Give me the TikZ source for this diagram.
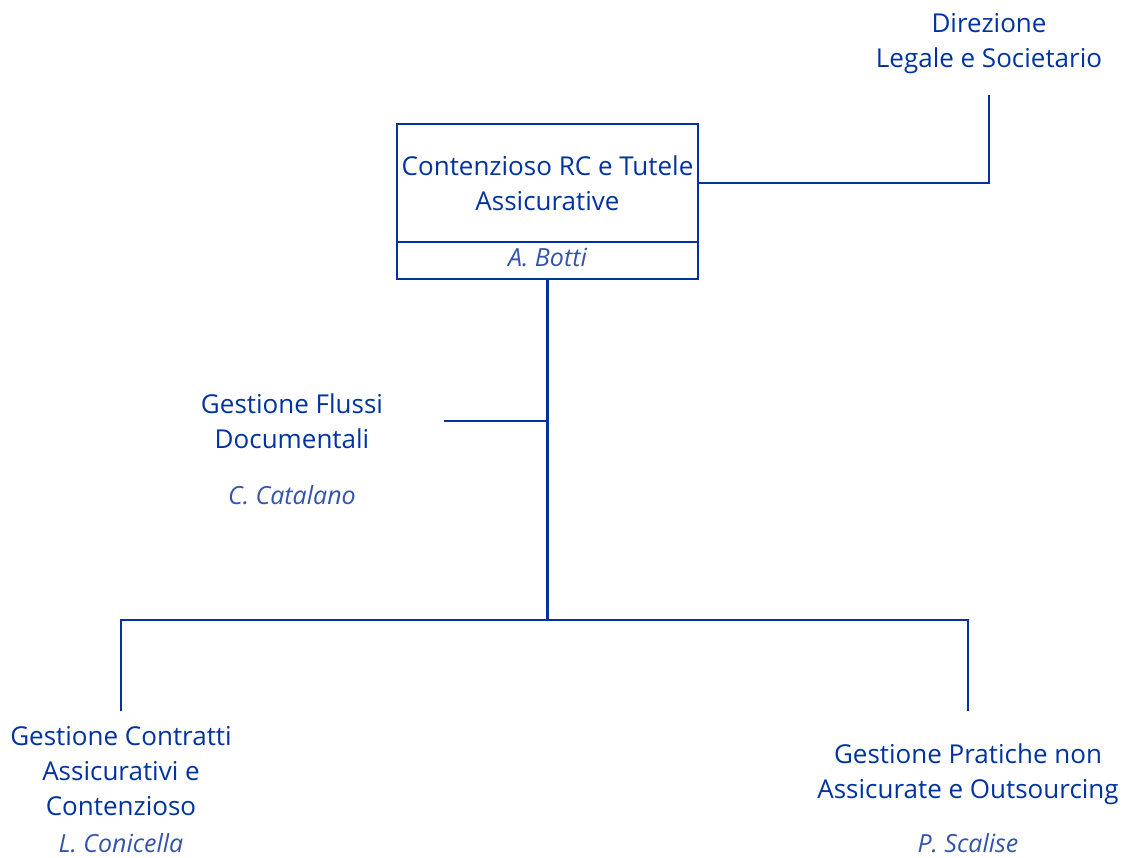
\documentclass[tikz,border=0pt]{standalone}
\usepackage{fontspec}
\setmainfont{Open Sans}
\usepackage{tikz}
\usetikzlibrary{positioning}

\definecolor{blu}{HTML}{0033A0}
\definecolor{blunome}{HTML}{3354AA}

\tikzset{
    unita/.style={align=center, text=blu, inner sep=0pt,
        font=\fontsize{26}{35}\selectfont},
    nome/.style={text=blunome, inner sep=0pt,
        font=\fontsize{25}{30}\selectfont\itshape},
    linea/.style={draw=blu, line width=2.8pt},
    scatola/.style={linea, minimum width=301pt, inner sep=0pt, outer sep=0pt},
}

\begin{document}
\begin{tikzpicture}[x=1pt, y=-1pt]
    \useasboundingbox (0,0) rectangle (1124,857);

    % 1. Unità principale
    \node[scatola, minimum height=118pt] (capo) at (547.5,183) {};
    \node[unita] at (capo.center) {Contenzioso RC e Tutele\\Assicurative};
    \node[scatola, minimum height=37pt, below=0pt of capo] (capobox) {};
    \node[nome] (caponome) at ([yshift=3pt]capobox.center) {A. Botti};

    % 2. Direzione
    \node[unita] (dir) at (989,44) {Direzione\\Legale e Societario};
    \draw[linea] (capo.east) -| ([yshift=-51pt]dir.center);

    % 3. Staff
    \node[unita] (flussi) at (292,421) {Gestione Flussi\\Documentali};
    \node[nome] (flussinome) at (292,495) {C. Catalano};
    \coordinate (nodo) at (capobox.south |- 0,620);
    \draw[linea] (capobox.south) -- (nodo);
    \draw[linea] (capobox.south |- flussi) -- ([xshift=152pt]flussi.center);

    % 4. Uffici
    \node[unita] (contratti) at (121,771.5) {Gestione Contratti\\Assicurativi e\\Contenzioso};
    \node[nome] (contrattinome) at (121,843) {L. Conicella};
    \node[unita] (pratiche) at (968,774.5) {Gestione Pratiche non\\Assicurate e Outsourcing};
    \node[nome] (pratichenome) at (968,843) {P. Scalise};

    \draw[linea] ([yshift=60.5pt]contratti.center) |- (nodo) -| ([yshift=63.5pt]pratiche.center);
\end{tikzpicture}
\end{document}
